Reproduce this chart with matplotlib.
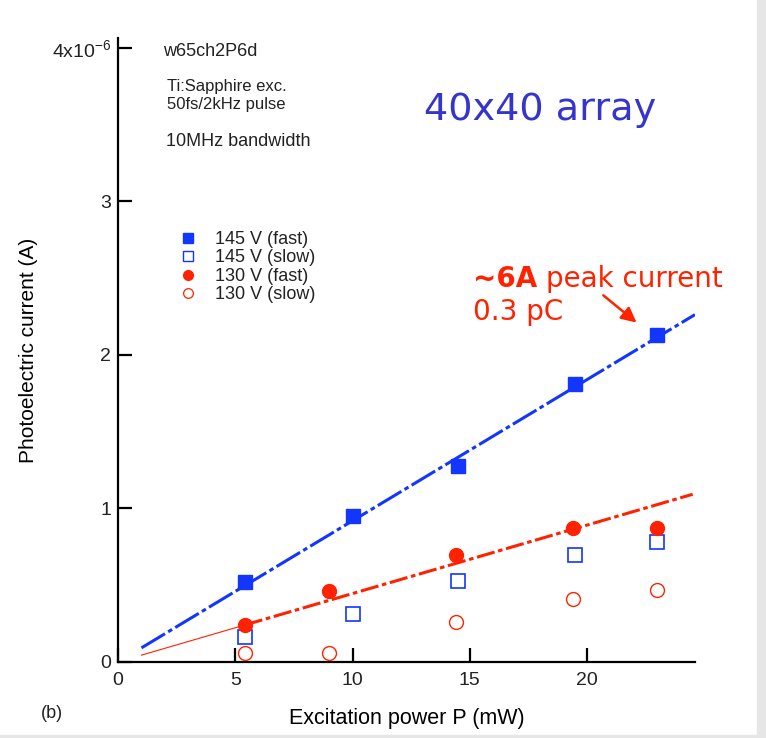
import numpy as np
import matplotlib
matplotlib.use("Agg")
import matplotlib.pyplot as plt
from matplotlib.lines import Line2D
from matplotlib.patches import Rectangle

plt.rcParams["font.family"] = ["Liberation Sans", "DejaVu Sans"]
plt.rcParams["mathtext.default"] = "regular"
plt.rcParams["text.color"] = "#222222"

W, H = 766, 738
BLUE = "#1336ff"
RED = "#ff2200"

# measured currents (units of 1e-6 A)
p_fast145 = [5.4, 10.0, 14.5, 19.5, 23.0]
i_fast145 = [0.52, 0.95, 1.28, 1.81, 2.13]
p_slow145 = [5.4, 10.0, 14.5, 19.5, 23.0]
i_slow145 = [0.16, 0.31, 0.53, 0.70, 0.78]
p_fast130 = [5.4, 9.0, 14.4, 19.4, 23.0]
i_fast130 = [0.24, 0.46, 0.70, 0.87, 0.875]
p_slow130 = [5.4, 9.0, 14.4, 19.4, 23.0]
i_slow130 = [0.06, 0.06, 0.26, 0.41, 0.47]

# linear fits
fit145_slope, fit145_icpt = 0.092, 0.0
fit130_slope, fit130_icpt = 0.0446, 0.0

y_ticks = [0, 1, 2, 3, 4]
y_ticklabels = ["0", "1", "2", "3", "4x10$^{-6}$"]
x_ticks = [0, 5, 10, 15, 20]


def fx(px):
    return px / W


def fy(py):
    return 1 - py / H


fig = plt.figure(figsize=(W / 100, H / 100), dpi=100)
ax = fig.add_axes([fx(118), fy(662), fx(695) - fx(118), fy(38) - fy(662)])
ax.set_xlim(0, 24.6)
ax.set_ylim(0, 4.065)

for s in ["top", "right"]:
    ax.spines[s].set_visible(False)
for s in ["left", "bottom"]:
    ax.spines[s].set_linewidth(1.6)

ax.set_xticks(x_ticks)
ax.set_yticks(y_ticks)
ax.set_yticklabels(y_ticklabels)
ax.tick_params(direction="in", length=10, width=1.6, labelsize=14,
               labelcolor="#222222")
ax.tick_params(axis="x", pad=7)
ax.tick_params(axis="y", pad=5)

# fit lines
xb = np.array([1.0, 24.6])
ax.plot(xb, fit145_slope * xb + fit145_icpt, color=BLUE, lw=2.2,
        dashes=[9, 1.2, 1.5, 1.2], zorder=2)
xr_thin = np.array([1.0, 5.4])
ax.plot(xr_thin, fit130_slope * xr_thin + fit130_icpt, color=RED, lw=0.8, zorder=2)
xr = np.array([5.4, 24.5])
ax.plot(xr, fit130_slope * xr + fit130_icpt, color=RED, lw=2.2,
        dashes=[6, 1.2, 1.5, 1.2], zorder=2)

# data points
ax.plot(p_fast145, i_fast145, "s", ms=10, color=BLUE, zorder=3)
ax.plot(p_slow145, i_slow145, "s", ms=10, mfc="white", mec=BLUE, mew=1.2, ls="none", zorder=3)
ax.plot(p_fast130, i_fast130, "o", ms=10, color=RED, zorder=3)
ax.plot(p_slow130, i_slow130, "o", ms=10, mfc="white", mec=RED, mew=1.0, ls="none", zorder=3)

ax.set_xlabel("Excitation power P (mW)", fontsize=15.5, labelpad=14)
ax.set_ylabel("Photoelectric current (A)", fontsize=15, labelpad=10)

# legend
handles = [
    Line2D([], [], marker="s", ls="none", ms=7, color=BLUE),
    Line2D([], [], marker="s", ls="none", ms=7, mfc="white", mec=BLUE, mew=1.0),
    Line2D([], [], marker="o", ls="none", ms=7, color=RED),
    Line2D([], [], marker="o", ls="none", ms=7, mfc="white", mec=RED, mew=0.9),
]
labels = ["145 V (fast)", "145 V (slow)", "130 V (fast)", "130 V (slow)"]
fig.legend(handles, labels, loc="upper left", bbox_to_anchor=(fx(165), fy(222)),
           frameon=False, fontsize=13, labelspacing=0.08, handletextpad=0.75,
           borderpad=0, handlelength=1.5)

# annotations
fig.text(fx(163), fy(52), "w65ch2P6d", fontsize=13, va="center")
fig.text(fx(167), fy(87), "Ti:Sapphire exc.", fontsize=12, va="center")
fig.text(fx(167), fy(104), "50fs/2kHz pulse", fontsize=12, va="center")
fig.text(fx(166), fy(142), "10MHz bandwidth", fontsize=13, va="center")
fig.text(fx(424), fy(110), "40x40 array", fontsize=27.5, color="#3535cc",
         family="DejaVu Sans", va="center")

t6 = fig.text(fx(473), fy(279), "~6A", fontsize=20, color=RED, weight="bold",
              family="DejaVu Sans", va="center")
fig.canvas.draw()
x_end = t6.get_window_extent().x1
fig.text(x_end / W + fx(9), fy(279), "peak current", fontsize=20, color=RED,
         family="DejaVu Sans", va="center")
fig.text(fx(473), fy(312), "0.3 pC", fontsize=20, color=RED,
         family="DejaVu Sans", va="center")
ax.annotate("", xy=(22.2, 2.20), xytext=(20.6, 2.40),
            arrowprops=dict(arrowstyle="-|>,head_length=0.9,head_width=0.45",
                            color=RED, lw=1.8))
fig.text(fx(52), fy(714), "(b)", fontsize=13, va="center", ha="center")

# frame strips on the right and bottom
fig.patches.append(Rectangle((fx(757), 0), 1, 1, transform=fig.transFigure,
                             color="#e6e6e6", zorder=0))
fig.patches.append(Rectangle((0, 0), 1, fy(735), transform=fig.transFigure,
                             color="#e6e6e6", zorder=0))

fig.savefig("out.png", dpi=100)
